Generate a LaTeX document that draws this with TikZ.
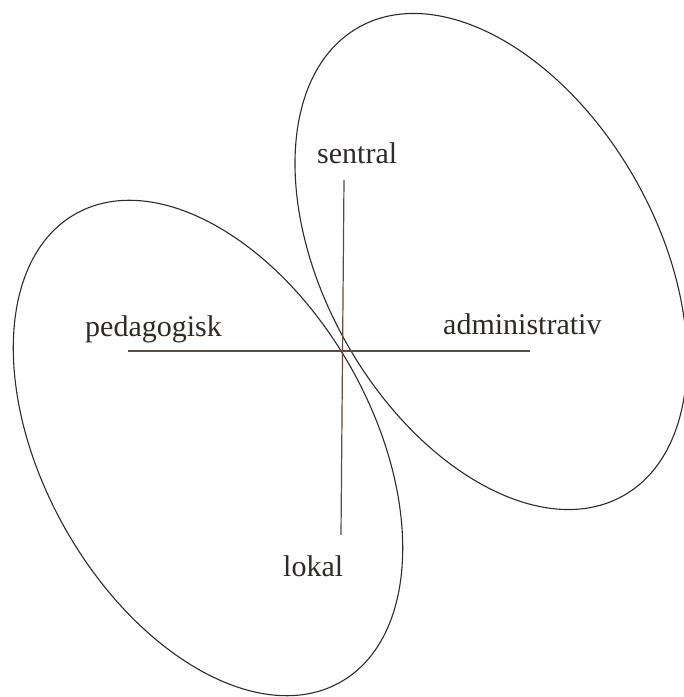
\documentclass[tikz,border=0pt]{standalone}
\usepackage{fontspec}
\setmainfont{Liberation Serif}
\definecolor{ink}{HTML}{2E2A28}
\definecolor{axisink}{HTML}{5A4E42}
\begin{document}
\begin{tikzpicture}[x=1pt,y=1pt,
  lbl/.style={inner sep=0pt,anchor=base west,text=ink,font=\fontsize{30}{36}\selectfont},
  ring/.style={draw=ink,line width=1.1pt},
  axisline/.style={draw=axisink,line width=1.2pt}]
\fill[white] (0,0) rectangle (684,697);
\useasboundingbox (0,0) rectangle (684,697);
\begin{scope}
\clip (0,0) rectangle (684,697);
\draw[ring,rotate around={-60.5:(491,435.5)}] (491,435.5) ellipse [x radius=269,y radius=166];
\draw[ring,rotate around={-60.5:(208,249)}] (208,249) ellipse [x radius=269,y radius=164];
\end{scope}
\coordinate (west) at (128,346);
\coordinate (east) at (530,346);
\coordinate (north) at (344,517);
\coordinate (south) at (341,162);
\draw[axisline] (west) -- (east);
\draw[axisline] (north) -- (south);
\node[lbl] (sentral) at (317,533.5) {sentral};
\node[lbl] (ped) at (85,360.5) {pedagogisk};
\node[lbl] (adm) at (443,362) {administrativ};
\node[lbl] (lokal) at (283,120) {lokal};
\end{tikzpicture}
\end{document}
